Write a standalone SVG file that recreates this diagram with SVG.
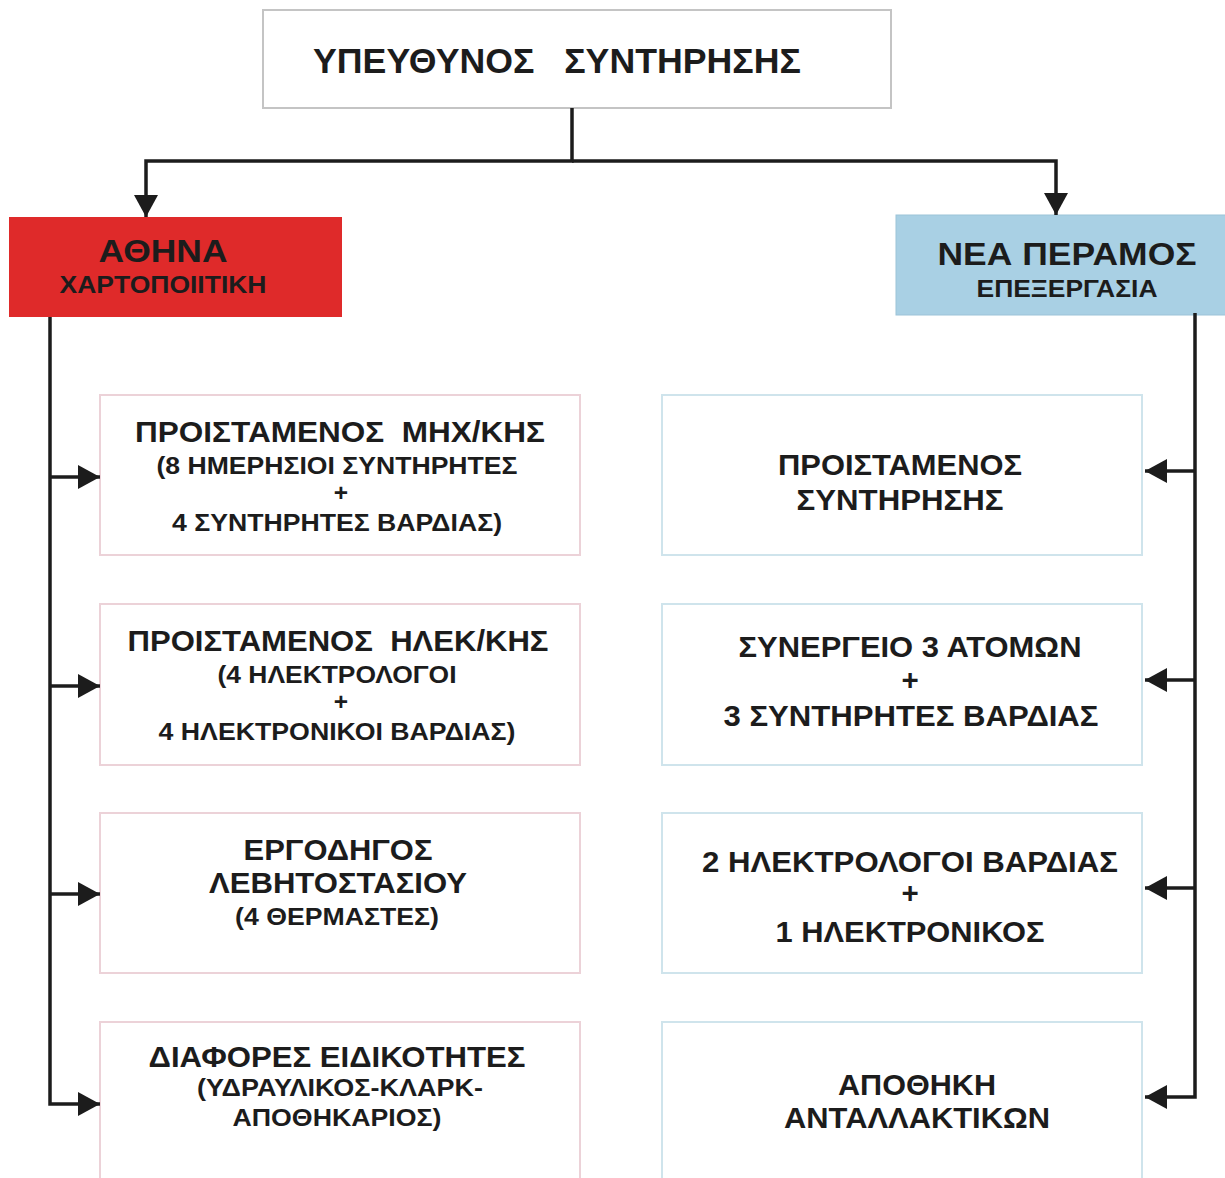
<svg xmlns="http://www.w3.org/2000/svg" width="1225" height="1178" viewBox="0 0 1225 1178">
<defs>
<style>
text{font-family:"Liberation Sans",Arial,sans-serif;font-weight:bold;fill:#1c1c1c;text-anchor:middle}
.t{font-size:35px}
.h{font-size:31px}
.s{font-size:24px}
.m{font-size:29.5px}
.n{font-size:24.5px}
.boxL{fill:#ffffff;stroke:#ecd2d8;stroke-width:2}
.boxR{fill:#ffffff;stroke:#cfe4ec;stroke-width:2}
.con{fill:none;stroke:#1c1c1c;stroke-width:3.5;stroke-linejoin:miter}
</style>
<marker id="ah" markerUnits="userSpaceOnUse" markerWidth="22" markerHeight="24" refX="22" refY="12" orient="auto">
<path d="M0,0 L22,12 L0,24 z" fill="#1c1c1c"/>
</marker>
</defs>
<rect width="1225" height="1178" fill="#ffffff"/>

<g id="top">
<rect x="263" y="10" width="628" height="98" fill="#ffffff" stroke="#c4c4c4" stroke-width="2"/>
<text class="t" x="557" y="73" textLength="488" lengthAdjust="spacingAndGlyphs" xml:space="preserve">ΥΠΕΥΘΥΝΟΣ   ΣΥΝΤΗΡΗΣΗΣ</text>
</g>

<g id="athina">
<rect x="9" y="217" width="333" height="100" fill="#df2a2a"/>
<text class="h" x="163" y="262" textLength="129" lengthAdjust="spacingAndGlyphs">ΑΘΗΝΑ</text>
<text class="s" x="163" y="293" textLength="207" lengthAdjust="spacingAndGlyphs">ΧΑΡΤΟΠΟΙΙΤΙΚΗ</text>
</g>

<g id="neaperamos">
<rect x="896" y="215" width="332" height="100" fill="#a9d0e4" stroke="#9cc3d8" stroke-width="1"/>
<text class="h" x="1067" y="265" textLength="259" lengthAdjust="spacingAndGlyphs">ΝΕΑ ΠΕΡΑΜΟΣ</text>
<text class="s" x="1067" y="297" textLength="181" lengthAdjust="spacingAndGlyphs">ΕΠΕΞΕΡΓΑΣΙΑ</text>
</g>

<g id="L1">
<rect class="boxL" x="100" y="395" width="480" height="160"/>
<text class="m" x="340" y="442" textLength="410" lengthAdjust="spacingAndGlyphs" xml:space="preserve">ΠΡΟΙΣΤΑΜΕΝΟΣ  ΜΗΧ/ΚΗΣ</text>
<text class="n" x="337" y="474" textLength="361" lengthAdjust="spacingAndGlyphs">(8 ΗΜΕΡΗΣΙΟΙ ΣΥΝΤΗΡΗΤΕΣ</text>
<text class="n" x="341" y="501">+</text>
<text class="n" x="337" y="531" textLength="330" lengthAdjust="spacingAndGlyphs">4 ΣΥΝΤΗΡΗΤΕΣ ΒΑΡΔΙΑΣ)</text>
</g>

<g id="L2">
<rect class="boxL" x="100" y="604" width="480" height="161"/>
<text class="m" x="338" y="651" textLength="421" lengthAdjust="spacingAndGlyphs" xml:space="preserve">ΠΡΟΙΣΤΑΜΕΝΟΣ  ΗΛΕΚ/ΚΗΣ</text>
<text class="n" x="337" y="683" textLength="239" lengthAdjust="spacingAndGlyphs">(4 ΗΛΕΚΤΡΟΛΟΓΟΙ</text>
<text class="n" x="341" y="710">+</text>
<text class="n" x="337" y="740" textLength="357" lengthAdjust="spacingAndGlyphs">4 ΗΛΕΚΤΡΟΝΙΚΟΙ ΒΑΡΔΙΑΣ)</text>
</g>

<g id="L3">
<rect class="boxL" x="100" y="813" width="480" height="160"/>
<text class="m" x="338" y="860" textLength="189" lengthAdjust="spacingAndGlyphs">ΕΡΓΟΔΗΓΟΣ</text>
<text class="m" x="338" y="893" textLength="258" lengthAdjust="spacingAndGlyphs">ΛΕΒΗΤΟΣΤΑΣΙΟΥ</text>
<text class="n" x="337" y="925" textLength="204" lengthAdjust="spacingAndGlyphs">(4 ΘΕΡΜΑΣΤΕΣ)</text>
</g>

<g id="L4">
<rect class="boxL" x="100" y="1022" width="480" height="170"/>
<text class="m" x="337" y="1067" textLength="377" lengthAdjust="spacingAndGlyphs">ΔΙΑΦΟΡΕΣ ΕΙΔΙΚΟΤΗΤΕΣ</text>
<text class="n" x="340" y="1096" textLength="286" lengthAdjust="spacingAndGlyphs">(ΥΔΡΑΥΛΙΚΟΣ-ΚΛΑΡΚ-</text>
<text class="n" x="337" y="1126" textLength="209" lengthAdjust="spacingAndGlyphs">ΑΠΟΘΗΚΑΡΙΟΣ)</text>
</g>

<g id="R1">
<rect class="boxR" x="662" y="395" width="480" height="160"/>
<text class="m" x="900" y="475" textLength="244" lengthAdjust="spacingAndGlyphs">ΠΡΟΙΣΤΑΜΕΝΟΣ</text>
<text class="m" x="900" y="510" textLength="207" lengthAdjust="spacingAndGlyphs">ΣΥΝΤΗΡΗΣΗΣ</text>
</g>

<g id="R2">
<rect class="boxR" x="662" y="604" width="480" height="161"/>
<text class="m" x="910" y="657" textLength="343" lengthAdjust="spacingAndGlyphs">ΣΥΝΕΡΓΕΙΟ 3 ΑΤΟΜΩΝ</text>
<text class="m" x="910" y="690">+</text>
<text class="m" x="911" y="726" textLength="375" lengthAdjust="spacingAndGlyphs">3 ΣΥΝΤΗΡΗΤΕΣ ΒΑΡΔΙΑΣ</text>
</g>

<g id="R3">
<rect class="boxR" x="662" y="813" width="480" height="160"/>
<text class="m" x="910" y="872" textLength="416" lengthAdjust="spacingAndGlyphs">2 ΗΛΕΚΤΡΟΛΟΓΟΙ ΒΑΡΔΙΑΣ</text>
<text class="m" x="910" y="903">+</text>
<text class="m" x="910" y="942" textLength="269" lengthAdjust="spacingAndGlyphs">1 ΗΛΕΚΤΡΟΝΙΚΟΣ</text>
</g>

<g id="R4">
<rect class="boxR" x="662" y="1022" width="480" height="170"/>
<text class="m" x="917" y="1095" textLength="158" lengthAdjust="spacingAndGlyphs">ΑΠΟΘΗΚΗ</text>
<text class="m" x="917" y="1128" textLength="266" lengthAdjust="spacingAndGlyphs">ΑΝΤΑΛΛΑΚΤΙΚΩΝ</text>
</g>

<g id="connectors">
<path class="con" d="M572,108 V161 H146 V217" marker-end="url(#ah)"/>
<path class="con" d="M572,161 H1056 V215" marker-end="url(#ah)"/>
<path class="con" d="M50,317 V1104 H100" marker-end="url(#ah)"/>
<path class="con" d="M50,477 H100" marker-end="url(#ah)"/>
<path class="con" d="M50,686 H100" marker-end="url(#ah)"/>
<path class="con" d="M50,894 H100" marker-end="url(#ah)"/>
<path class="con" d="M1195,313 V1097 H1145" marker-end="url(#ah)"/>
<path class="con" d="M1195,471 H1145" marker-end="url(#ah)"/>
<path class="con" d="M1195,680 H1145" marker-end="url(#ah)"/>
<path class="con" d="M1195,888 H1145" marker-end="url(#ah)"/>
</g>
</svg>
